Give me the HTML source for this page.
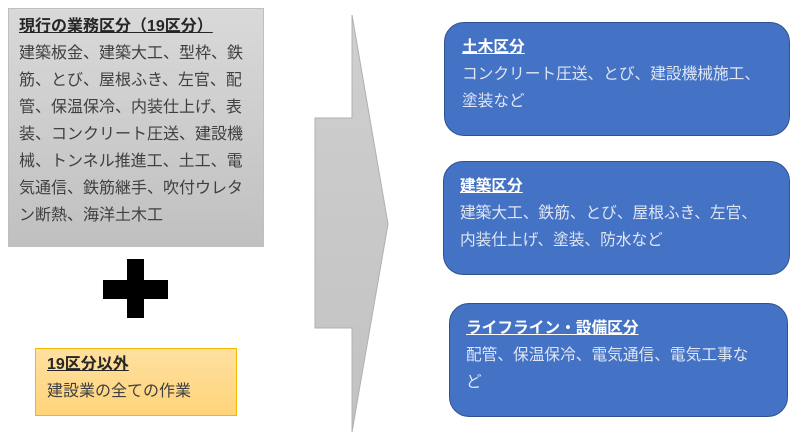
<!DOCTYPE html>
<html><head><meta charset="utf-8"><style>
body{margin:0;width:800px;height:442px;background:#fff;position:relative;overflow:hidden;font-family:"Liberation Sans","Noto Sans CJK JP",sans-serif;}
.a{position:absolute;}
.gray{left:8px;top:8px;width:256px;height:239px;background:linear-gradient(#d9d9d9,#c0c0c0);border:1px solid #bfbfbf;box-sizing:border-box;}
.t{position:absolute;white-space:nowrap;font-size:16px;line-height:27px;color:#404040;}
.b{font-weight:bold;text-decoration:underline;color:#262626;}
.blue{position:absolute;background:#4472c4;border:1.5px solid #2f528f;border-radius:20px;box-sizing:border-box;}
.w{position:absolute;white-space:nowrap;font-size:15.7px;line-height:27px;color:#dfe6f5;}
.wb{font-weight:bold;text-decoration:underline;color:#fff;}
</style></head><body>
<div class="a gray"></div>
<div class="t" style="left:19px;top:13px;"><span class="b">現行の業務区分（19区分）</span><br>建築板金、建築大工、型枠、鉄<br>筋、とび、屋根ふき、左官、配<br>管、保温保冷、内装仕上げ、表<br>装、コンクリート圧送、建設機<br>械、トンネル推進工、土工、電<br>気通信、鉄筋継手、吹付ウレタ<br>ン断熱、海洋土木工</div>
<div class="a" style="left:103px;top:280px;width:65px;height:19px;background:#000"></div>
<div class="a" style="left:127px;top:259px;width:17px;height:59px;background:#000"></div>
<div class="a" style="left:35px;top:348px;width:202px;height:68px;background:linear-gradient(#ffe0a0,#ffd47a);border:1px solid #f5b800;box-sizing:border-box;"></div>
<div class="t" style="left:47px;top:351px;"><span class="b">19区分以外</span><br>建設業の全ての作業</div>
<svg class="a" style="left:0;top:0" width="800" height="442"><defs><linearGradient id="g" x1="0" y1="0" x2="0" y2="1"><stop offset="0" stop-color="#cfcfcf"/><stop offset="1" stop-color="#c2c2c2"/></linearGradient></defs>
<polygon points="315,118 352,118 352,15 388,224 352,432 352,328 315,328" fill="url(#g)" stroke="#b0b0b0" stroke-width="1"/></svg>
<div class="blue" style="left:444px;top:22px;width:346px;height:114px;"></div>
<div class="w" style="left:462px;top:34px;"><span class="wb">土木区分</span><br>コンクリート圧送、とび、建設機械施工、<br>塗装など</div>
<div class="blue" style="left:443px;top:161px;width:347px;height:114px;"></div>
<div class="w" style="left:460px;top:173px;"><span class="wb">建築区分</span><br>建築大工、鉄筋、とび、屋根ふき、左官、<br>内装仕上げ、塗装、防水など</div>
<div class="blue" style="left:449px;top:303px;width:339px;height:114px;"></div>
<div class="w" style="left:466px;top:315px;"><span class="wb">ライフライン・設備区分</span><br>配管、保温保冷、電気通信、電気工事な<br>ど</div>
</body></html>
